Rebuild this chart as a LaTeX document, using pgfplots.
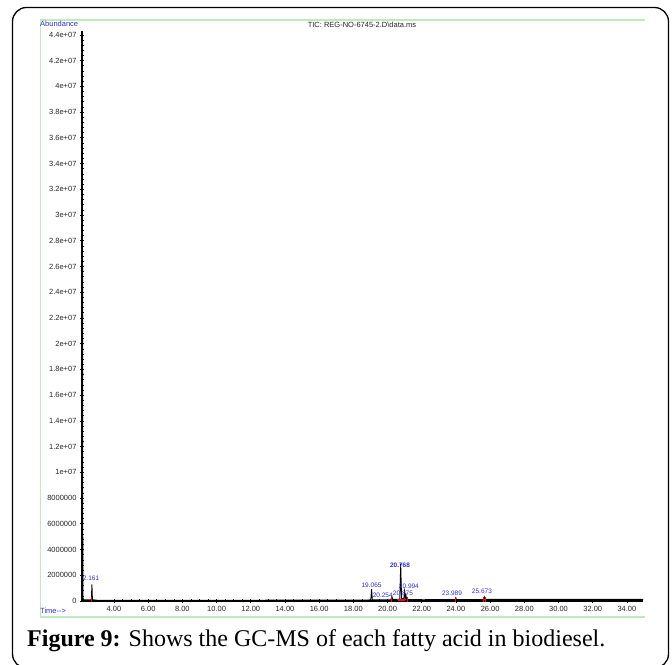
\documentclass[border=0pt]{standalone}
\usepackage{fontspec}
\setmainfont{Liberation Serif}
\newfontfamily\arialf{Liberation Sans}
\usepackage{pgfplots}
\pgfplotsset{compat=1.18}
\definecolor{pkblue}{RGB}{45,45,205}
\definecolor{frgreen}{RGB}{190,235,190}
\begin{document}
\begin{tikzpicture}[x=1pt,y=1pt]
\useasboundingbox (0,0) rectangle (672,664);
\draw[line width=1.3pt, rounded corners=14pt] (12.5,-4) rectangle (668.5,656.5);
\draw[frgreen, line width=1.2pt] (645,644) -- (40.5,644) -- (40.5,47) -- (645,47);
\node[font=\arialf\fontsize{7.5}{8}\selectfont, text=pkblue, anchor=west, inner sep=0pt] at (40,640) {Abundance};
\node[font=\arialf\fontsize{7.5}{8}\selectfont, text=black!85, inner sep=0pt] at (362,639) {TIC: REG-NO-6745-2.D\textbackslash data.ms};
\node[font=\arialf\fontsize{7.5}{8}\selectfont, text=pkblue, anchor=west, inner sep=0pt] at (40,53) {Time-{}-{}>};
\node[anchor=base west, inner sep=0pt] at (27,17) {\fontsize{24}{27}\selectfont\textbf{Figure 9:} Shows the GC-MS of each fatty acid in biodiesel.};
\begin{axis}[
  at={(82pt,63pt)}, anchor=south west, scale only axis,
  width=561pt, height=570pt,
  xmin=2.13, xmax=34.94, ymin=0, ymax=4.43e7,
  axis x line*=bottom, axis y line*=left,
  x axis line style={line width=1.4pt,-},
  y axis line style={line width=1.6pt,-},
  xtick={4,6,...,34},
  xticklabels={4.00,6.00,8.00,10.00,12.00,14.00,16.00,18.00,20.00,22.00,24.00,26.00,28.00,30.00,32.00,34.00},
  ytick={0,2000000,4000000,6000000,8000000,10000000,12000000,14000000,16000000,18000000,20000000,22000000,24000000,26000000,28000000,30000000,32000000,34000000,36000000,38000000,40000000,42000000,44000000},
  yticklabels={0,2000000,4000000,6000000,8000000,1e+07,1.2e+07,1.4e+07,1.6e+07,1.8e+07,2e+07,2.2e+07,2.4e+07,2.6e+07,2.8e+07,3e+07,3.2e+07,3.4e+07,3.6e+07,3.8e+07,4e+07,4.2e+07,4.4e+07},
  minor x tick num=3, minor y tick num=4,
  tick align=center, major tick length=4pt, minor tick length=3pt,
  every tick/.style={black, line width=0.6pt},
  tick label style={font=\arialf\fontsize{7.5}{8}\selectfont, text=black!85},
  scaled y ticks=false,
  clip=false,
]
\addplot[black, line width=0.9pt] coordinates {
(2.13,0) (2.15,4.37e7) (2.18,0.3e6) (2.22,0.1e6) (2.6,0.08e6) (2.68,0.1e6) (2.71,1.3e6) (2.74,0.1e6)
(3.0,0.06e6) (5,0.05e6) (8,0.06e6) (12,0.06e6) (16,0.07e6) (18.9,0.08e6) (19.02,0.1e6) (19.065,0.93e6)
(19.11,0.1e6) (20.2,0.1e6) (20.254,0.35e6) (20.3,0.12e6) (20.72,0.14e6) (20.768,2.9e6) (20.82,0.2e6)
(20.95,0.16e6) (20.994,0.75e6) (21.04,0.18e6) (21.075,0.45e6) (21.12,0.12e6) (22,0.1e6) (23.95,0.11e6)
(23.989,0.25e6) (24.03,0.11e6) (25.63,0.12e6) (25.673,0.3e6) (25.72,0.12e6) (28,0.12e6) (31,0.11e6) (34.94,0.11e6)};
\addplot[black, line width=1.3pt] coordinates {(25.72,0.12e6) (28,0.12e6) (31,0.11e6) (34.94,0.11e6)};
\addplot[red, line width=1.6pt] coordinates {(20.6,0.1e6) (21.0,0.1e6)};
\addplot[red, only marks, mark=|, mark size=2.5pt, line width=0.8pt] coordinates {
(2.68,0.1e6) (20.2,0.12e6) (21.15,0.12e6) (23.95,0.12e6) (25.62,0.13e6) (25.75,0.13e6)};
\tikzset{pk/.style={font=\arialf\fontsize{6.5}{7}\selectfont, text=pkblue, inner sep=0pt}}
\node[pk, anchor=west] at (axis cs:2.17,1.75e6) {2.161};
\node[pk] at (axis cs:19.065,1.25e6) {19.065};
\node[pk] at (axis cs:19.72,0.47e6) {20.254};
\node[pk, font=\arialf\bfseries\fontsize{6.5}{7}\selectfont] at (axis cs:20.73,2.8e6) {20.768};
\node[pk] at (axis cs:20.9,0.6e6) {20.875};
\node[pk] at (axis cs:21.25,1.18e6) {20.994};
\node[pk] at (axis cs:23.77,0.62e6) {23.989};
\node[pk] at (axis cs:25.52,0.78e6) {25.673};
\end{axis}
\end{tikzpicture}
\end{document}
